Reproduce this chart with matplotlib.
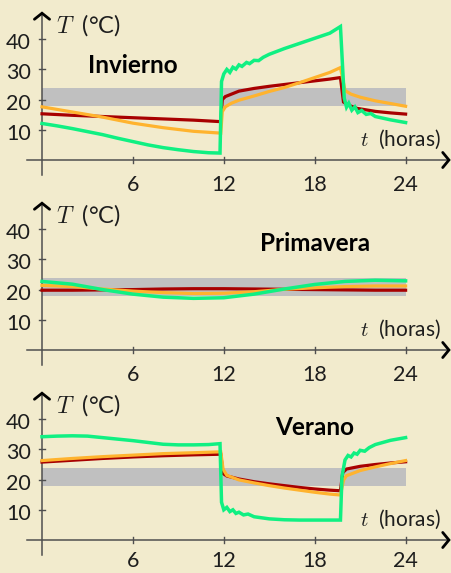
import matplotlib
matplotlib.use("Agg")
import matplotlib.pyplot as plt

plt.rcParams['font.family'] = ['Lato', 'DejaVu Sans']
plt.rcParams['mathtext.fontset'] = 'cm'

# ---- data -------------------------------------------------------------
seasons = ["Invierno", "Primavera", "Verano"]
x_ticks = [6, 12, 18, 24]
y_ticks = [10, 20, 30, 40]
comfort_low, comfort_high = 18, 24
day_start, day_end = 0, 24

# Invierno
inv_red_t = [0, 2, 4, 6, 8, 10, 11.8, 11.9, 12.1, 12.5, 13, 14, 15, 16, 17, 18, 19, 19.7,
             19.9, 20.2, 20.8, 22, 23, 24]
inv_red_v = [15.3, 14.8, 14.4, 14.0, 13.6, 13.2, 12.7, 20.0, 21.0, 21.8, 22.8, 23.7, 24.4, 25.0,
             25.6, 26.2, 26.8, 27.3, 19.2, 18.2, 17.1, 16.1, 15.6, 15.2]
inv_org_t = [0, 2, 4, 6, 8, 10, 11.8, 11.9, 12.1, 12.5, 13, 14, 15, 16, 17, 18, 19, 19.7,
             20.0, 20.4, 21, 22, 23, 24]
inv_org_v = [17.6, 15.9, 14.2, 12.2, 10.7, 9.5, 8.9, 16.0, 17.6, 18.8, 19.8, 21.2, 22.7, 24.0,
             25.6, 27.3, 29.0, 30.6, 23.0, 21.8, 20.8, 19.6, 18.7, 17.8]
inv_grn_t = [0, 1, 2, 3, 4, 5, 6, 7, 8, 9, 10, 11, 11.75, 11.85, 12.0, 12.2, 12.4, 12.6, 12.8,
             13.0, 13.2, 13.5, 13.7, 14.0, 14.3, 14.6, 15, 16, 17, 18, 19, 19.7, 19.95, 20.1,
             20.25, 20.45, 20.65, 20.85, 21.1, 21.4, 21.7, 22, 23, 24]
inv_grn_v = [12.1, 11.3, 10.4, 9.4, 8.4, 7.2, 6.1, 5.0, 4.1, 3.4, 2.8, 2.4, 2.3, 26.0, 28.5,
             30.0, 29.0, 30.7, 30.1, 31.5, 31.0, 32.3, 31.9, 33.0, 32.9, 34.0, 35.0, 36.9,
             38.6, 40.3, 42.0, 44.2, 20.5, 17.5, 18.8, 16.5, 17.6, 15.7, 16.4, 15.1, 15.4,
             14.4, 13.3, 12.4]

# Primavera
pri_t = [0, 2, 4, 6, 8, 10, 12, 14, 16, 18, 20, 22, 24]
pri_red_v = [19.8, 19.8, 19.9, 20.0, 20.2, 20.3, 20.3, 20.2, 20.1, 20.0, 19.9, 19.8, 19.8]
pri_org_v = [21.4, 21.0, 20.2, 19.5, 19.0, 18.7, 18.8, 19.3, 20.1, 20.6, 21.0, 21.2, 21.2]
pri_grn_v = [22.7, 21.8, 20.0, 18.5, 17.5, 17.1, 17.3, 18.5, 20.2, 21.7, 22.7, 23.1, 22.9]

# Verano
ver_red_t = [0, 2, 4, 6, 8, 10, 11.8, 11.95, 12.2, 13, 14, 15, 16, 17, 18, 19, 19.7, 19.85,
             20.1, 21, 22, 23, 24]
ver_red_v = [25.8, 26.4, 27.0, 27.5, 27.9, 28.2, 28.4, 22.0, 21.2, 20.2, 19.3, 18.6, 18.0,
             17.4, 16.9, 16.5, 16.3, 22.3, 23.5, 24.4, 25.0, 25.5, 25.9]
ver_org_t = [0, 2, 4, 6, 8, 10, 11.8, 11.95, 12.2, 13, 14, 15, 16, 17, 18, 19, 19.7, 19.9,
             20.1, 21, 22, 23, 24]
ver_org_v = [26.3, 27.0, 27.6, 28.1, 28.6, 28.9, 29.2, 23.5, 21.4, 19.9, 18.9, 18.0, 17.2,
             16.5, 15.8, 15.2, 14.9, 19.8, 21.3, 23.0, 24.2, 25.3, 26.3]
ver_grn_t = [0, 1, 2, 3, 4, 5, 6, 7, 8, 9, 10, 11, 11.75, 11.85, 12.0, 12.2, 12.4, 12.6, 12.8,
             13.0, 13.3, 13.6, 14, 15, 16, 17, 18, 19, 19.7, 19.8, 20.0, 20.2, 20.4, 20.6,
             20.8, 21.0, 21.3, 21.6, 22, 23, 24]
ver_grn_v = [34.2, 34.4, 34.5, 34.4, 33.9, 33.4, 32.9, 32.3, 31.7, 31.5, 31.5, 31.6, 31.9,
             12.5, 10.0, 10.8, 9.4, 10.0, 8.8, 9.2, 8.3, 8.6, 7.7, 7.0, 6.7, 6.6, 6.6, 6.6,
             6.6, 21.0, 26.5, 28.0, 27.5, 28.8, 28.4, 29.7, 29.4, 30.6, 31.6, 33.0, 33.9]

series = [
    [(inv_red_t, inv_red_v), (inv_org_t, inv_org_v), (inv_grn_t, inv_grn_v)],
    [(pri_t, pri_red_v), (pri_t, pri_org_v), (pri_t, pri_grn_v)],
    [(ver_red_t, ver_red_v), (ver_org_t, ver_org_v), (ver_grn_t, ver_grn_v)],
]
title_pos = [(6, 28.9), (18, 32.8), (18, 34.8)]
# baseline of the hour labels under each time axis (the last one sits at the figure edge)
hour_label_base = [-10.2, -10.2, -9.0]

# ---- style ------------------------------------------------------------
BG = "#F2EBCD"
LINE_COLORS = ["#A80000", "#FFB32E", "#10F082"]
LINE_WIDTHS = [2.3, 2.3, 2.5]
AXIS_GRAY = "#4F4F4F"
TEXT = "#1E1E1E"

W, H = 452, 573
PX_PER_H = 15.15
PX_PER_DEG = 3.02

fig = plt.figure(figsize=(W / 100, H / 100), dpi=100, facecolor=BG)

for i in range(3):
    axis_row = 160 + 190 * i          # pixel row of the time axis (from top)
    top_row = axis_row - 160
    ax = fig.add_axes([0, (H - (top_row + 190)) / H, 1, 190 / H])
    ax.set_xlim(-42 / PX_PER_H, (W - 42) / PX_PER_H)
    ax.set_ylim(-30 / PX_PER_DEG, 160 / PX_PER_DEG)
    ax.axis("off")
    ax.patch.set_alpha(0)

    # comfort band
    ax.fill_between([day_start, day_end], comfort_low, comfort_high,
                    color="#C0C0C0", lw=0, zorder=1)

    for (tt, vv), col, lw in zip(series[i], LINE_COLORS, LINE_WIDTHS):
        ax.plot(tt, vv, color=col, lw=lw, solid_joinstyle="miter", zorder=3)

    # axes lines
    ax.plot([-0.99, 26.86], [0, 0], color=AXIS_GRAY, lw=1.1, zorder=2)
    ax.plot([0, 0], [-5, 48.6], color=AXIS_GRAY, lw=1.1, zorder=2)
    # arrow heads
    ax.plot([26.45, 26.86, 26.45], [2.5, 0, -2.5], color="black", lw=2.0,
            solid_capstyle="round", solid_joinstyle="miter", zorder=4)
    ax.plot([-0.5, 0, 0.5], [46.6, 48.6, 46.6], color="black", lw=2.0,
            solid_capstyle="round", solid_joinstyle="miter", zorder=4)

    # ticks
    for xt in x_ticks:
        ax.plot([xt, xt], [-1.1, 1.1], color=AXIS_GRAY, lw=1.0, zorder=2)
        ax.text(xt, hour_label_base[i], str(xt), ha="center", va="baseline",
                fontsize=15.5, color=TEXT)
    for yt in y_ticks:
        ax.plot([-0.2, 0.2], [yt, yt], color=AXIS_GRAY, lw=1.0, zorder=2)
        ax.text(-0.73, yt - 3.3, str(yt), ha="right", va="baseline", fontsize=15.5,
                color=TEXT)

    ax.text(0.92, 44.7, r"$T$  (°C)", ha="left", va="center", fontsize=17,
            color=TEXT)
    ax.text(26.34, 7.0, r"$t$  (horas)", ha="right", va="center", fontsize=15,
            color=TEXT)
    tx, ty = title_pos[i]
    ax.text(tx, ty, seasons[i], ha="center", va="baseline", fontsize=17.5,
            fontweight="bold", color="black")

fig.savefig("out.png", dpi=100, facecolor=BG)
